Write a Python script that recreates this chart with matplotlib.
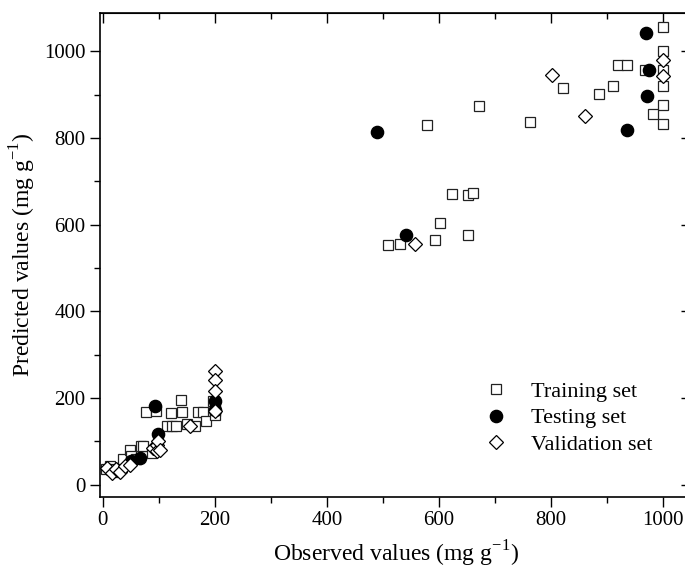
import matplotlib
matplotlib.use('Agg')
import matplotlib.pyplot as plt
from matplotlib.ticker import MultipleLocator

plt.rcParams['font.family'] = 'Liberation Serif'
plt.rcParams['mathtext.fontset'] = 'custom'
plt.rcParams['mathtext.rm'] = 'Liberation Serif'

# training set (observed, predicted)
train_x = [5, 12, 18, 25, 30, 36, 48, 50, 60, 69, 72, 77, 87, 95, 114, 121, 123, 131,
           139, 142, 150, 164, 170, 179, 185, 197, 200, 200, 200,
           509, 531, 592, 601, 651, 623, 651, 660, 578, 671, 762, 821, 886, 911,
           919, 936, 968, 1000, 1000, 1000, 982, 1000, 1000, 1000]
train_y = [37, 42, 35, 30, 38, 58, 81, 65, 60, 88, 88, 167, 73, 170, 136, 165, 136, 136,
           195, 168, 140, 135, 167, 167, 146, 192, 180, 170, 160,
           553, 555, 564, 604, 576, 672, 668, 674, 830, 875, 837, 915, 902, 920,
           968, 968, 957, 957, 921, 877, 856, 833, 1056, 1001]

# testing set
test_x = [51, 66, 93, 99, 200, 200, 489, 541, 936, 969, 975, 971]
test_y = [54, 62, 181, 117, 192, 173, 814, 576, 818, 1042, 957, 898]

# validation set
val_x = [7, 16, 24, 30, 39, 48, 90, 96, 96, 99, 102, 155, 200, 200, 200, 200,
         557, 801, 861, 1000, 1000]
val_y = [39, 27, 35, 30, 42, 45, 85, 92, 77, 100, 81, 136, 262, 242, 215, 169,
         556, 946, 852, 981, 943]

fig = plt.figure(figsize=(6.85, 5.69), dpi=100)
ax = fig.add_axes([0.146, 0.127, 0.863, 0.851])

ax.plot(train_x, train_y, 's', mfc='white', mec='#222222', mew=0.9, ms=7.4,
        label='Training set')
ax.plot(test_x, test_y, 'o', mfc='black', mec='black', ms=8.8, label='Testing set')
ax.plot(val_x, val_y, 'D', mfc='white', mec='black', mew=0.9, ms=7.2,
        label='Validation set')

ax.set_xlim(-5, 1050)
ax.set_ylim(-28, 1090)
ax.xaxis.set_major_locator(MultipleLocator(200))
ax.xaxis.set_minor_locator(MultipleLocator(100))
ax.yaxis.set_major_locator(MultipleLocator(200))
ax.yaxis.set_minor_locator(MultipleLocator(100))
ax.tick_params(which='both', direction='out', labelsize=15, width=1)
ax.tick_params(which='major', length=7)
ax.tick_params(which='minor', length=4)
for s in ax.spines.values():
    s.set_linewidth(1.2)

# mirrored ticks pointing inward on top and right
top = ax.secondary_xaxis('top')
top.xaxis.set_major_locator(MultipleLocator(200))
top.xaxis.set_minor_locator(MultipleLocator(100))
top.tick_params(which='both', direction='in', labeltop=False, width=1)
top.tick_params(which='major', length=7)
top.tick_params(which='minor', length=4)
right = ax.secondary_yaxis('right')
right.yaxis.set_major_locator(MultipleLocator(200))
right.yaxis.set_minor_locator(MultipleLocator(100))
right.tick_params(which='both', direction='in', labelright=False, width=1)
right.tick_params(which='major', length=7)
right.tick_params(which='minor', length=4)

ax.set_xlabel('Observed values (mg g$^{-1}$)', fontsize=17, labelpad=6)
ax.set_ylabel('Predicted values (mg g$^{-1}$)', fontsize=17, labelpad=4)

ax.legend(loc='upper left', bbox_to_anchor=(0.608, 0.28), frameon=False, fontsize=16,
          handletextpad=0.8, labelspacing=0.28, handlelength=1.5)

fig.savefig('out.png', dpi=100)
